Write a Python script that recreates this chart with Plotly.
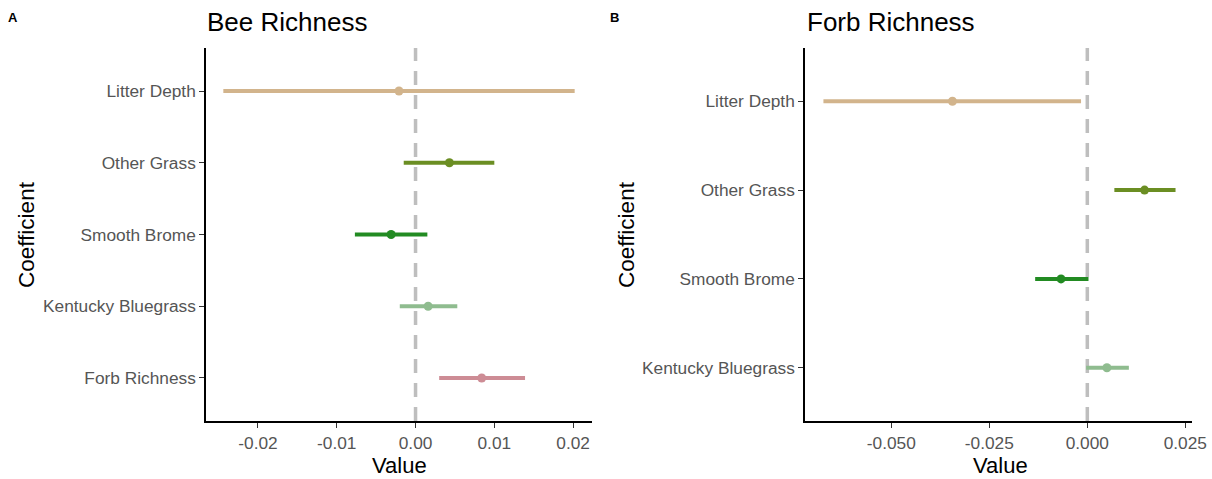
import plotly.graph_objects as go

# Panel A: Bee Richness
a_terms = ["Litter Depth", "Other Grass", "Smooth Brome", "Kentucky Bluegrass", "Forb Richness"]
a_est = [-0.0021, 0.0043, -0.0031, 0.0016, 0.0084]
a_lo = [-0.0244, -0.0015, -0.0077, -0.0020, 0.0030]
a_hi = [0.0202, 0.0100, 0.0015, 0.0053, 0.0139]

# Panel B: Forb Richness
b_terms = ["Litter Depth", "Other Grass", "Smooth Brome", "Kentucky Bluegrass"]
b_est = [-0.0344, 0.0146, -0.0067, 0.0050]
b_lo = [-0.0673, 0.0069, -0.0133, -0.0003]
b_hi = [-0.0016, 0.0225, 0.0003, 0.0106]

a_ticks = [-0.02, -0.01, 0.00, 0.01, 0.02]
a_ticktext = ["-0.02", "-0.01", "0.00", "0.01", "0.02"]
b_ticks = [-0.050, -0.025, 0.000, 0.025]
b_ticktext = ["-0.050", "-0.025", "0.000", "0.025"]

colors = {
    "Litter Depth": "#D2B48C",
    "Other Grass": "#6B8E23",
    "Smooth Brome": "#228B22",
    "Kentucky Bluegrass": "#8FBC8F",
    "Forb Richness": "#CD8C95",
}

fig = go.Figure()

def add_panel(terms, est, lo, hi, xa, ya):
    for t, e, l, h in zip(terms, est, lo, hi):
        fig.add_trace(go.Scatter(
            x=[l, h], y=[t, t], mode="lines",
            line=dict(color=colors[t], width=4),
            xaxis=xa, yaxis=ya, showlegend=False, hoverinfo="skip"))
        fig.add_trace(go.Scatter(
            x=[e], y=[t], mode="markers",
            marker=dict(color=colors[t], size=9),
            xaxis=xa, yaxis=ya, showlegend=False))

add_panel(a_terms, a_est, a_lo, a_hi, "x", "y")
add_panel(b_terms, b_est, b_lo, b_hi, "x2", "y2")

font = "Liberation Sans, Arial, sans-serif"
tickfont = dict(family=font, size=17.3, color="#555555")

def xax(domain, rng, tv, tt, anchor):
    return dict(domain=domain, range=rng, tickvals=tv, ticktext=tt, showgrid=False,
                zeroline=False, showline=True, linecolor="black", linewidth=1.5,
                ticks="outside", ticklen=5, tickcolor="#333", tickwidth=1.2,
                tickfont=tickfont, anchor=anchor, automargin=False)

def yax(terms, anchor):
    n = len(terms)
    return dict(domain=[0, 1], type="category", categoryorder="array",
                categoryarray=list(reversed(terms)), range=[-0.6, n - 0.4],
                showgrid=False, zeroline=False, showline=True, linecolor="black",
                linewidth=1.5, ticks="outside", ticklen=5, tickcolor="#333", tickwidth=1.2,
                tickfont=tickfont, anchor=anchor, automargin=False)

W = 1212.0
TOP, BOT = 48, 421
H = BOT - TOP

def py(p):
    return (BOT - p) / H

fig.update_layout(
    width=1212, height=479,
    margin=dict(l=0, r=0, t=TOP, b=479 - BOT, pad=0),
    plot_bgcolor="white", paper_bgcolor="white",
    xaxis=xax([206 / W, 592 / W], [-0.0266, 0.0224], a_ticks, a_ticktext, "y"),
    yaxis=yax(a_terms, "x"),
    xaxis2=xax([805 / W, 1192 / W], [-0.0720, 0.0267], b_ticks, b_ticktext, "y2"),
    yaxis2=yax(b_terms, "x2"),
    font=dict(family=font),
)

for xr, yr in [("x", "y domain"), ("x2", "y2 domain")]:
    fig.add_shape(type="line", xref=xr, yref=yr, x0=0, x1=0, y0=0, y1=1,
                  line=dict(color="#BEBEBE", width=3.5, dash="14px,10px"), layer="below")

def label(text, xpx, ypx, size, xanchor="center", angle=0, color="black"):
    fig.add_annotation(text=text, x=xpx / W, y=py(ypx), xref="paper", yref="paper",
                       xanchor=xanchor, yanchor="middle", textangle=angle, showarrow=False,
                       font=dict(family=font, size=size, color=color))

label("<b>A</b>", 13, 18, 13)
label("<b>B</b>", 614, 18, 13)
label("Bee Richness", 205, 22, 26, xanchor="left")
label("Forb Richness", 805, 22, 26, xanchor="left")
label("Value", 399, 465, 22)
label("Value", 1000, 465, 22)
label("Coefficient", 26, 235, 22.5, angle=-90)
label("Coefficient", 626, 235, 22.5, angle=-90)

fig.write_html("out.html", config={"displayModeBar": False},
               post_script="document.body.style.margin='0';")
